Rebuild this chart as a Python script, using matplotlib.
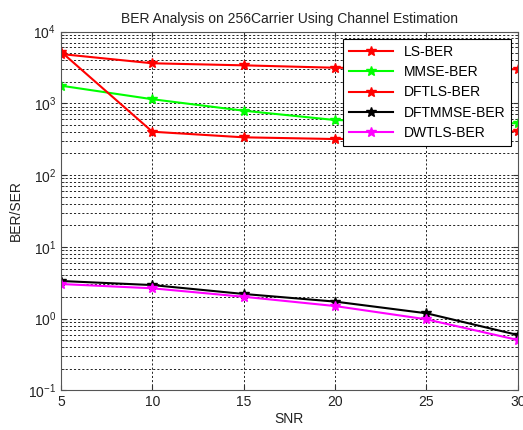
import matplotlib
matplotlib.use("Agg")
import matplotlib.pyplot as plt
from matplotlib.ticker import LogLocator, NullFormatter

snr = [5, 10, 15, 20, 25, 30]
ls_ber = [4860, 3610, 3380, 3130, 3050, 2980]
mmse_ber = [1760, 1140, 789, 585, 550, 526]
dftls_ber = [5240, 402, 336, 318, 330, 411]
dftmmse_ber = [3.35, 2.94, 2.21, 1.73, 1.19, 0.593]
dwtls_ber = [3.04, 2.65, 2.02, 1.50, 0.98, 0.505]

series = [
    ("LS-BER", ls_ber, "#ff0000"),
    ("MMSE-BER", mmse_ber, "#00ff00"),
    ("DFTLS-BER", dftls_ber, "#ff0000"),
    ("DFTMMSE-BER", dftmmse_ber, "#000000"),
    ("DWTLS-BER", dwtls_ber, "#ff00ff"),
]

plt.rcParams['font.family'] = ['Liberation Sans', 'DejaVu Sans']
plt.rcParams['mathtext.fontset'] = 'custom'
plt.rcParams['mathtext.rm'] = 'Liberation Sans'

fig = plt.figure(figsize=(5.23, 4.30), dpi=100)
ax = fig.add_axes([0.1166, 0.0919, 0.8734, 0.8348])

for label, vals, col in series:
    ax.plot(snr, vals, '-', color=col, lw=1.5, marker='*', ms=7,
            mec=col, mfc=col, label=label)

ax.set_yscale('log')
ax.set_ylim(0.1, 1e4)
ax.set_xlim(5, 30)
ax.set_xticks([5, 10, 15, 20, 25, 30])
ax.yaxis.set_major_locator(LogLocator(base=10, numticks=10))
ax.yaxis.set_minor_locator(LogLocator(base=10, subs=range(2, 10), numticks=20))
ax.yaxis.set_minor_formatter(NullFormatter())

ax.grid(True, which='major', axis='both', color='black', linestyle=(0, (2.5, 2.5)), lw=0.6)
ax.grid(True, which='minor', axis='y', color='black', linestyle=(0, (2.5, 2.5)), lw=0.6)

ax.tick_params(direction='in', which='both', top=True, right=True, labelsize=10, colors='#333333')
ax.tick_params(axis='both', which='both', labelcolor='#222222')
for s in ax.spines.values():
    s.set_color('#555555')

ax.set_xlabel('SNR', fontsize=10, color='#222222', labelpad=2)
ax.set_ylabel('BER/SER', fontsize=10, color='#222222')
ax.set_title('BER Analysis on 256Carrier Using Channel Estimation', fontsize=10, color='#222222')

leg = ax.legend(loc='upper right', bbox_to_anchor=(0.986, 0.978), fontsize=10,
                fancybox=False, framealpha=1, edgecolor='black', handlelength=3.2,
                borderaxespad=0, labelspacing=0.45)
leg.get_frame().set_linewidth(0.8)

fig.savefig('out.png', dpi=100)
